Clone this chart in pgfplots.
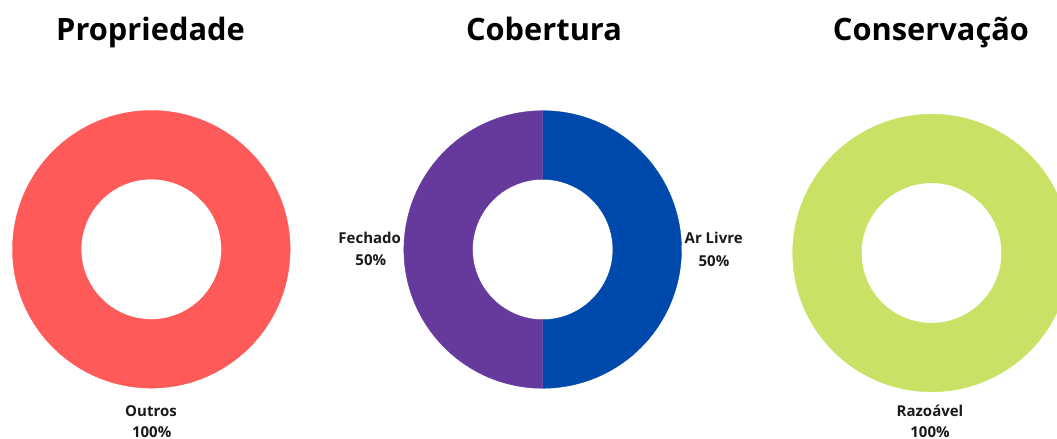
\documentclass[border=0pt]{standalone}
\usepackage{fontspec}
\setmainfont{Open Sans}
\usepackage{pgfplots}
\usepackage{pgfplotstable}
\pgfplotsset{compat=1.18}

\definecolor{cred}{HTML}{FF5A5A}
\definecolor{cblue}{HTML}{0049AC}
\definecolor{cpurple}{HTML}{663A9C}
\definecolor{cgreen}{HTML}{C9E165}
\definecolor{ctext}{HTML}{1A1A1A}

% one table per donut: share in percent, slice colour
\pgfplotstableread{
label value color
Outros 100 cred
}\propriedade

\pgfplotstableread{
label value color
{Ar Livre} 50 cblue
Fechado 50 cpurple
}\cobertura

\pgfplotstableread{
label value color
Razoável 100 cgreen
}\conservacao

\def\rout{69.4pt}
\def\rin{35.1pt}
\def\rdiff{34.3pt}

% slices go clockwise from 12 o'clock
\newcommand\donut[3]{%
  \pgfplotstablegetrowsof{#1}%
  \pgfmathtruncatemacro\lastrow{\pgfplotsretval-1}%
  \def\startangle{90}%
  \pgfplotsforeachungrouped \i in {0,...,\lastrow}{%
    \pgfplotstablegetelem{\i}{value}\of{#1}\let\val\pgfplotsretval
    \pgfplotstablegetelem{\i}{color}\of{#1}\let\col\pgfplotsretval
    \pgfmathsetmacro\endangle{\startangle-3.6*\val}%
    \pgfmathsetmacro\backangle{\endangle+180}%
    \edef\temp{\noexpand\filldraw[fill=\col, draw=\col, line width=0.2pt]
      (axis cs:#2,#3) ++(\startangle:\rout)
      arc[start angle=\startangle, end angle=\endangle, radius=\rout]
      -- ++(\backangle:\rdiff)
      arc[start angle=\endangle, end angle=\startangle, radius=\rin] -- cycle;}%
    \temp
    \let\startangle\endangle
  }%
}

\begin{document}
\begin{tikzpicture}
  \begin{axis}[
    x=0.5pt, y=0.5pt,
    xmin=0, xmax=1057, ymin=0, ymax=439,
    hide axis,
    clip=true,
  ]
  \donut{\propriedade}{151.3}{189.7}
  \donut{\cobertura}{542.7}{189.5}
  \donut{\conservacao}{931.5}{186}

  % titles
  \begin{scope}[every node/.style={anchor=base, font=\fontsize{15.4}{18}\selectfont\bfseries}]
    \node at (axis cs:150.5,398) {Propriedade};
    \node at (axis cs:544,398) {Cobertura};
    \node at (axis cs:931,398) {Conservação};
  \end{scope}

  % slice labels
  \begin{scope}[every node/.style={anchor=base, text=ctext, inner sep=0pt,
      font=\fontsize{7.5}{9}\selectfont\bfseries}]
    \node at (axis cs:369.7,195.7) {Fechado};
    \node at (axis cs:370.8,173.3) {50\%};
    \node at (axis cs:713.7,195.3) {Ar Livre};
    \node at (axis cs:714,172.3) {50\%};
    \node at (axis cs:151,22) {Outros};
    \node at (axis cs:151.7,1.5) {100\%};
    \node at (axis cs:930,22) {Razoável};
    \node at (axis cs:930,1.5) {100\%};
  \end{scope}
  \end{axis}
  \pgfresetboundingbox
  \path (current axis.south west) rectangle (current axis.north east);
\end{tikzpicture}
\end{document}
